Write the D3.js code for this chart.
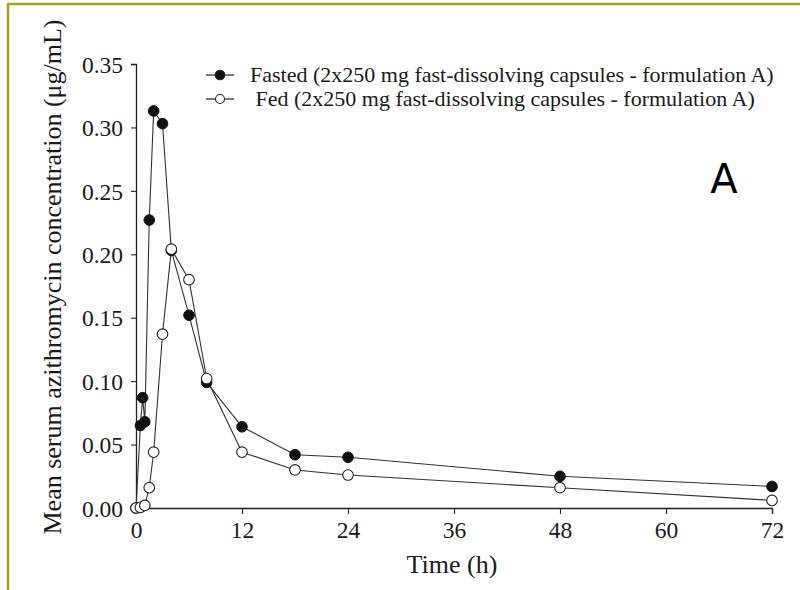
<!DOCTYPE html>
<html>
<head>
<meta charset="utf-8">
<script src="https://cdn.jsdelivr.net/npm/d3@7/dist/d3.min.js"></script>
<style>
html,body{margin:0;padding:0;background:#fff;}
svg{display:block;}
</style>
</head>
<body>
<svg id="chart" width="800" height="590"></svg>
<script>
const fastedTime = [0, 0.5, 0.75, 1, 1.5, 2, 3, 4, 6, 8, 12, 18, 24, 48, 72];
const fastedConc = [0, 0.065, 0.087, 0.068, 0.227, 0.313, 0.303, 0.203, 0.152, 0.099, 0.064, 0.042, 0.040, 0.025, 0.017];
const fedTime = [0, 0.5, 1, 1.5, 2, 3, 4, 6, 8, 12, 18, 24, 48, 72];
const fedConc = [0, 0.0005, 0.002, 0.016, 0.044, 0.137, 0.204, 0.180, 0.102, 0.044, 0.030, 0.026, 0.016, 0.006];
const xTicks = [0, 12, 24, 36, 48, 60, 72];
const yTicks = [0, 0.05, 0.10, 0.15, 0.20, 0.25, 0.30, 0.35];
const seriesNames = ["Fasted (2x250 mg fast-dissolving capsules - formulation A)", " Fed (2x250 mg fast-dissolving capsules - formulation A)"];
const xLabel = "Time (h)";
const yLabel = "Mean serum azithromycin concentration (\u03bcg/mL)";
const panelLabel = "A";

const svg = d3.select("#chart");
const serif = "'Liberation Serif','Times New Roman',serif";

// frame
svg.append("line").attr("x1", 8).attr("x2", 800).attr("y1", 4).attr("y2", 4)
  .attr("stroke", "#a4a41e").attr("stroke-width", 2.5);
svg.append("line").attr("x1", 8).attr("x2", 8).attr("y1", 3).attr("y2", 590)
  .attr("stroke", "#a4a41e").attr("stroke-width", 2.5);

const x = d3.scaleLinear().domain([0, 72]).range([136, 772]);
const y = d3.scaleLinear().domain([0, 0.35]).range([508, 64]);

const xAxis = svg.append("g").attr("transform", "translate(0,508)")
  .call(d3.axisBottom(x).tickValues(xTicks).tickSize(6).tickPadding(4).tickFormat(d3.format("d")));
const yAxis = svg.append("g").attr("transform", "translate(136,0)")
  .call(d3.axisLeft(y).tickValues(yTicks).tickSize(5).tickPadding(8).tickFormat(d3.format(".2f")));
[xAxis, yAxis].forEach(g => {
  g.select(".domain").attr("stroke", "#222").attr("stroke-width", 1.3);
  g.selectAll(".tick line").attr("stroke", "#222").attr("stroke-width", 1.1);
  g.selectAll(".tick text").attr("fill", "#1a1a1a").style("font-family", serif).style("font-size", "23.5px");
});
xAxis.selectAll(".tick text").attr("dy", "0.85em");
yAxis.selectAll(".tick text").attr("dy", "0.35em");

svg.append("text").attr("x", 452).attr("y", 573).attr("text-anchor", "middle")
  .style("font-family", serif).style("font-size", "26px").attr("fill", "#1a1a1a").text(xLabel);
svg.append("text").attr("transform", "translate(61,277) rotate(-90)").attr("text-anchor", "middle")
  .style("font-family", serif).style("font-size", "26px").attr("fill", "#1a1a1a").text(yLabel);

const line = d3.line().x(d => x(d[0])).y(d => y(d[1]));
const fasted = fastedTime.map((t, i) => [t, fastedConc[i]]);
const fed = fedTime.map((t, i) => [t, fedConc[i]]);

svg.append("path").datum(fasted).attr("d", line).attr("fill", "none").attr("stroke", "#333").attr("stroke-width", 1.1);
svg.append("path").datum(fed).attr("d", line).attr("fill", "none").attr("stroke", "#333").attr("stroke-width", 1.1);

svg.append("g").selectAll("circle").data(fasted).join("circle")
  .attr("cx", d => x(d[0])).attr("cy", d => y(d[1])).attr("r", 5.3)
  .attr("fill", "#111").attr("stroke", "#111").attr("stroke-width", 1);
svg.append("g").selectAll("circle").data(fed).join("circle")
  .attr("cx", d => x(d[0])).attr("cy", d => y(d[1])).attr("r", 5.3)
  .attr("fill", "#fff").attr("stroke", "#222").attr("stroke-width", 1.1);

// legend
const leg = svg.append("g");
[0, 1].forEach(i => {
  const ly = 75 + i * 24;
  leg.append("line").attr("x1", 206).attr("x2", 234).attr("y1", ly).attr("y2", ly).attr("stroke", "#222").attr("stroke-width", 1.2);
  leg.append("circle").attr("cx", 220).attr("cy", ly).attr("r", i === 0 ? 4.8 : 4.5)
    .attr("fill", i === 0 ? "#111" : "#fff").attr("stroke", "#222").attr("stroke-width", 1.1);
  leg.append("text").attr("x", 250).attr("y", ly).attr("dy", "0.33em")
    .style("font-family", serif).style("font-size", "22px").attr("fill", "#1a1a1a")
    .attr("xml:space", "preserve").style("white-space", "pre").text(seriesNames[i]);
});

svg.append("text").attr("x", 724).attr("y", 193).attr("text-anchor", "middle")
  .style("font-family", "'DejaVu Sans',sans-serif").style("font-size", "40px").attr("fill", "#000").text(panelLabel);
</script>
</body>
</html>
